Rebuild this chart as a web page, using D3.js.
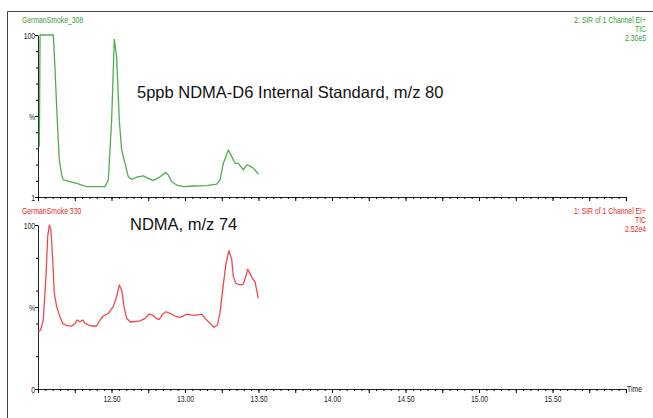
<!DOCTYPE html>
<html>
<head>
<meta charset="utf-8">
<script src="https://cdn.jsdelivr.net/npm/d3@7"></script>
<style>
  html, body { margin: 0; padding: 0; background: #fff; }
  svg { display: block; }
  .small { font-family: "Liberation Sans", Arial, sans-serif; font-size: 9.5px; }
  .note { font-family: "Liberation Sans", Arial, sans-serif; font-size: 16.5px; fill: #111; }
</style>
</head>
<body>
<svg id="chart" width="653" height="418"></svg>
<script>
// ==========================================================================
// DATA
// ==========================================================================

// top trace: NDMA-D6 internal standard, m/z 80 (time in min, % of max)
const d6Time = [12.009, 12.014, 12.104, 12.116, 12.131, 12.145, 12.161, 12.172, 12.263, 12.331,
  12.456, 12.478, 12.501, 12.519, 12.535, 12.553, 12.569, 12.592, 12.614, 12.637,
  12.671, 12.716, 12.750, 12.784, 12.830, 12.869, 12.886, 12.909, 12.944, 12.988,
  13.057, 13.148, 13.216, 13.238, 13.261, 13.295, 13.318, 13.340, 13.363, 13.397,
  13.420, 13.442, 13.465, 13.499];
const d6Value = [31.0, 100, 100, 78.4, 47.5, 22.8, 13.6, 10.5, 8.4, 6.4,
  6.4, 10.5, 47.5, 97.3, 86.6, 47.5, 29.0, 20.8, 12.5, 10.9,
  12.2, 13.0, 11.5, 10.1, 12.5, 15.2, 13.6, 9.4, 7.4, 6.4,
  6.8, 7.0, 8.0, 10.5, 20.8, 29.0, 24.9, 20.8, 20.8, 16.7,
  19.8, 19.1, 17.7, 14.2];

// bottom trace: NDMA, m/z 74
const ndmaTime = [12.002, 12.018, 12.036, 12.054, 12.066, 12.077, 12.088, 12.100, 12.111, 12.127,
  12.145, 12.168, 12.195, 12.229, 12.252, 12.267, 12.286, 12.304, 12.320, 12.342,
  12.365, 12.399, 12.422, 12.444, 12.478, 12.512, 12.535, 12.553, 12.569, 12.585,
  12.603, 12.626, 12.648, 12.694, 12.728, 12.757, 12.780, 12.803, 12.825, 12.848,
  12.871, 12.898, 12.932, 12.966, 12.989, 13.012, 13.046, 13.080, 13.114, 13.136,
  13.170, 13.197, 13.220, 13.238, 13.256, 13.279, 13.299, 13.318, 13.329, 13.347,
  13.374, 13.397, 13.413, 13.427, 13.442, 13.458, 13.476, 13.499];
const ndmaValue = [34.9, 36.0, 42.1, 68.5, 92.9, 100, 97.0, 78.7, 58.3, 50.2,
  45.1, 40.0, 38.6, 38.4, 40.0, 42.1, 41.0, 42.1, 40.0, 39.0,
  38.4, 38.4, 42.1, 44.5, 46.1, 50.2, 56.3, 63.4, 60.4, 50.2,
  43.1, 41.0, 41.0, 41.5, 43.1, 45.7, 45.1, 43.1, 42.5, 45.7,
  47.1, 46.1, 44.5, 43.7, 44.5, 45.7, 45.1, 45.1, 45.7, 43.1,
  40.0, 37.6, 39.0, 46.1, 60.4, 76.6, 84.3, 78.7, 68.5, 64.4,
  63.4, 64.0, 68.5, 73.0, 70.5, 67.5, 65.4, 55.3];

// axis labels
const xTickValues = [12.5, 13.0, 13.5, 14.0, 14.5, 15.0, 15.5];
const xTickLabels = ['12.50', '13.00', '13.50', '14.00', '14.50', '15.00', '15.50'];
const yTickValues = [100, 50, 0];
const yTickLabelsTop = ['100', '%', '1'];
const yTickLabelsBottom = ['100', '%', '0'];

// header texts
const headerTop = ['GermanSmoke_308', '2: SIR of 1 Channel EI+', 'TIC', '2.30e5'];
const headerBottom = ['GermanSmoke 330', '1: SIR of 1 Channel EI+', 'TIC', '2.52e4'];
const noteTop = '5ppb NDMA-D6  Internal Standard, m/z 80';
const noteBottom = 'NDMA, m/z 74';

// ==========================================================================
// LAYOUT
// ==========================================================================

const GREEN = '#4fae4f';
const GREEN_TEXT = '#35a035';
const RED = '#f0494b';
const RED_TEXT = '#e62828';
const NARROW = 0.72; // instrument software uses a condensed font

const svg = d3.select('#chart');

const x = d3.scaleLinear().domain([12, 16]).range([38, 626]);

const panels = [
  { top: 35, bottom: 197, time: d6Time, value: d6Value, color: GREEN, textColor: GREEN_TEXT,
    header: headerTop, headerY: 23, yLabels: yTickLabelsTop, yMinor: d3.range(0, 101, 10),
    showX: false, note: noteTop, noteX: 137, noteY: 98 },
  { top: 225, bottom: 389, time: ndmaTime, value: ndmaValue, color: RED, textColor: RED_TEXT,
    header: headerBottom, headerY: 214, yLabels: yTickLabelsBottom, yMinor: d3.range(0, 101, 20),
    showX: true, note: noteBottom, noteX: 130, noteY: 230 }
];

// condensed text at (tx, ty)
function narrowText(parent, tx, ty, str, color, anchor) {
  return parent.append('text')
    .attr('class', 'small')
    .attr('transform', `translate(${tx},${ty}) scale(${NARROW},1)`)
    .attr('text-anchor', anchor || 'start')
    .attr('fill', color)
    .text(str);
}

// frame
svg.append('path')
  .attr('d', 'M7.5,418 V11.5 H653')
  .attr('fill', 'none')
  .attr('stroke', '#444')
  .attr('stroke-width', 1);

// minor ticks every 0.05 min, medium every 0.25 min
const minorTicks = d3.range(0, 81).map(i => 12 + i * 0.05);
const midTicks = d3.range(0, 17).map(i => 12 + i * 0.25);

panels.forEach(p => {
  const y = d3.scaleLinear().domain([0, 100]).range([p.bottom, p.top]);
  const g = svg.append('g');

  // x axis
  g.append('g')
    .attr('transform', `translate(0,${p.bottom})`)
    .call(d3.axisBottom(x).tickValues(minorTicks).tickSize(2).tickSizeOuter(0).tickFormat(''))
    .call(a => a.select('.domain').attr('stroke', '#222'));
  g.append('g')
    .attr('transform', `translate(0,${p.bottom})`)
    .call(d3.axisBottom(x).tickValues(midTicks).tickSize(4).tickSizeOuter(0).tickFormat(''))
    .call(a => a.select('.domain').remove());

  if (p.showX) {
    g.append('g')
      .attr('transform', `translate(0,${p.bottom})`)
      .call(d3.axisBottom(x).tickValues(xTickValues).tickSize(0)
        .tickFormat((d, i) => xTickLabels[i]).tickPadding(6))
      .call(a => a.select('.domain').remove())
      .selectAll('text')
      .attr('class', 'small')
      .attr('transform', `scale(${NARROW},1)`)
      .attr('fill', '#222');

    narrowText(g, 627, p.bottom + 3, 'Time', '#222');
  }

  // y axis
  g.append('g')
    .attr('transform', `translate(${x(12)},0)`)
    .call(d3.axisLeft(y).tickValues(p.yMinor).tickSize(2).tickSizeOuter(0).tickFormat(''))
    .call(a => a.select('.domain').attr('stroke', '#222'));
  g.append('g')
    .attr('transform', `translate(${x(12)},0)`)
    .call(d3.axisLeft(y).tickValues(yTickValues).tickSize(3)
      .tickFormat((d, i) => p.yLabels[i]).tickPadding(1))
    .call(a => a.select('.domain').remove())
    .selectAll('text')
    .attr('class', 'small')
    .attr('transform', `scale(${NARROW},1)`)
    .attr('fill', '#222');

  // trace
  const pts = p.time.map((t, i) => [t, p.value[i]]);
  g.append('path')
    .datum(pts)
    .attr('fill', 'none')
    .attr('stroke', p.color)
    .attr('stroke-width', 1.3)
    .attr('stroke-linejoin', 'round')
    .attr('d', d3.line().x(d => x(d[0])).y(d => y(d[1])));

  // header: sample name left, function info right
  narrowText(g, 22, p.headerY, p.header[0], p.textColor);
  p.header.slice(1).forEach((h, i) => {
    narrowText(g, 646, p.headerY + i * 9, h, p.textColor, 'end');
  });

  // annotation
  g.append('text')
    .attr('class', 'note')
    .attr('x', p.noteX)
    .attr('y', p.noteY)
    .text(p.note);
});
</script>
</body>
</html>
